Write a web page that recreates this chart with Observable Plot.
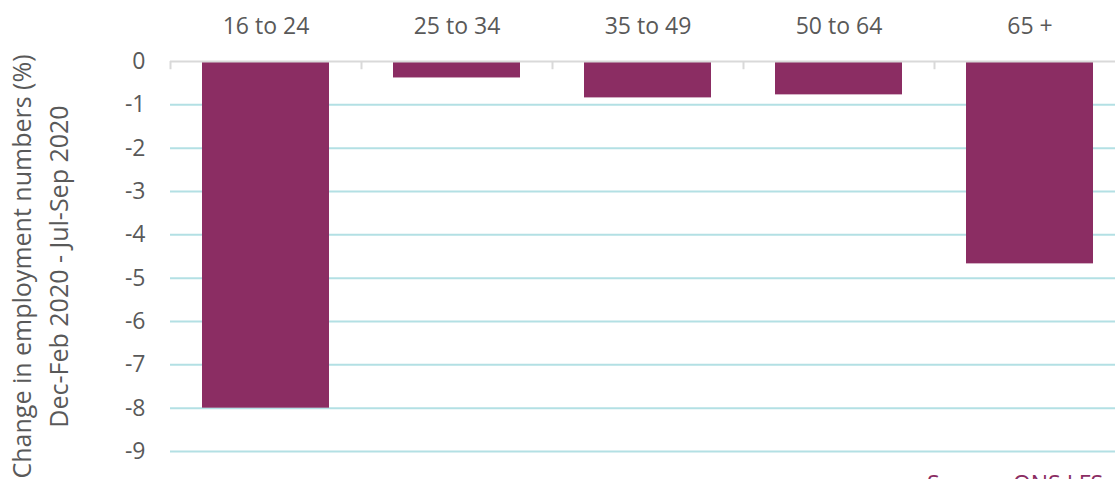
<!DOCTYPE html>
<html>
<head>
<meta charset="utf-8">
<script src="https://cdn.jsdelivr.net/npm/d3@7"></script>
<script src="https://cdn.jsdelivr.net/npm/@observablehq/plot@0.6"></script>
<style>
  html, body { margin: 0; padding: 0; background: #fff; overflow: hidden; }
  #wrap { position: relative; width: 1115px; height: 479px; overflow: hidden; }
  #source { position: absolute; left: 927px; top: 472px; font: 23px/1 "Open Sans", sans-serif; color: #8b2d63; white-space: nowrap; }
</style>
</head>
<body>
<div id="wrap">
  <div id="chart"></div>
  <div id="source">Source: ONS LFS</div>
</div>
<script>
// Age groups and change in employment numbers (%), Dec-Feb 2020 to Jul-Sep 2020
const ageGroups = ["16 to 24", "25 to 34", "35 to 49", "50 to 64", "65 +"];
const change = [-8.0, -0.38, -0.84, -0.77, -4.67];
const yTicks = [0, -1, -2, -3, -4, -5, -6, -7, -8, -9];
const gridTicks = [-1, -2, -3, -4, -5, -6, -7, -8, -9];

const data = ageGroups.map((g, i) => ({group: g, value: change[i]}));

const textColor = "#595959";
const barColor = "#8b2d63";
const xLeft = 170, xRight = 1125;
const step = (xRight - xLeft) / ageGroups.length;

const chart = Plot.plot({
  width: 1115,
  height: 479,
  marginTop: 61,
  marginBottom: 28,
  marginLeft: 170,
  marginRight: 0,
  style: {fontFamily: "'Open Sans', sans-serif", fontSize: "23px", color: textColor, background: "#fff"},
  x: {
    domain: ageGroups,
    range: [xLeft, xRight],
    paddingInner: 0.335,
    paddingOuter: 0.1675,
    axis: "top",
    tickSize: 0,
    tickPadding: 28,
    label: null
  },
  y: {
    domain: [-9, 0],
    ticks: yTicks,
    tickSize: 0,
    tickPadding: 25,
    tickFormat: d => String(d),
    label: null
  },
  marks: [
    Plot.ruleY(gridTicks, {stroke: "#b3e0e4", strokeWidth: 2}),
    Plot.barY(data, {x: "group", y1: 0, y2: "value", fill: barColor}),
    Plot.ruleY([0], {stroke: "#d9d9d9", strokeWidth: 2}),
    Plot.ruleX(ageGroups, {x: d => d, dx: -step / 2, y1: 0, y2: -0.19, stroke: "#d9d9d9", strokeWidth: 2}),
    Plot.text(["Change in employment numbers (%)\nDec-Feb 2020 - Jul-Sep 2020"], {
      frameAnchor: "left",
      textAnchor: "middle",
      lineAnchor: "middle",
      rotate: -90,
      dx: -133,
      dy: 10,
      lineHeight: 1.48,
      fontSize: 25,
      fill: textColor
    })
  ]
});

document.getElementById("chart").appendChild(chart);
</script>
</body>
</html>
